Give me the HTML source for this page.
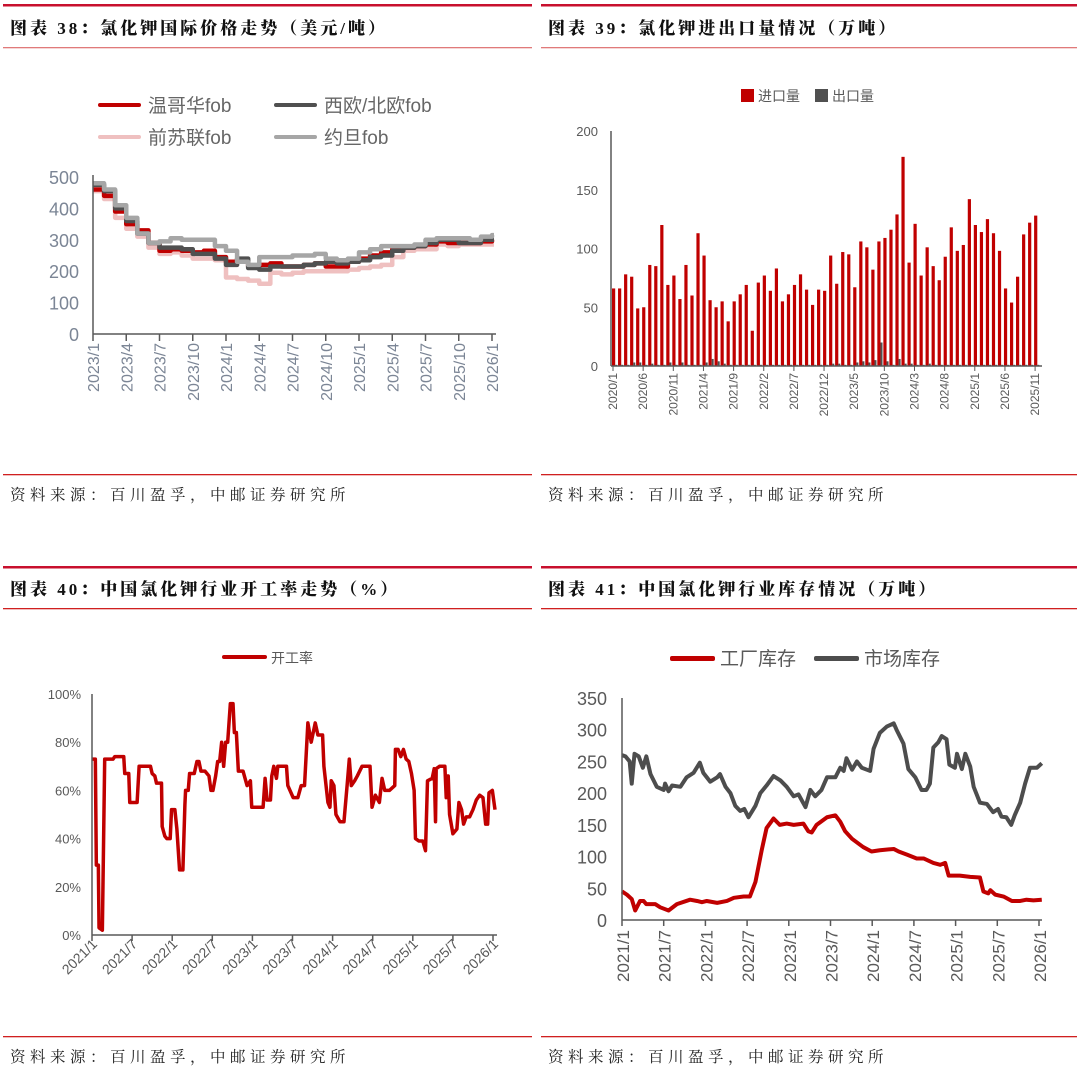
<!DOCTYPE html>
<html><head><meta charset="utf-8"><style>
html,body{margin:0;padding:0;background:#fff;}
svg{display:block;font-family:"Liberation Sans","Noto Sans CJK SC",sans-serif;}
.ttl{font-family:"Liberation Serif","Noto Serif CJK SC",serif;font-weight:900;font-size:17px;letter-spacing:3px;fill:#111;}
.src{font-family:"Liberation Serif","Noto Serif CJK SC",serif;font-size:15.5px;letter-spacing:4.5px;fill:#222;}
</style></head><body>
<svg id="root" width="1080" height="1084" viewBox="0 0 1080 1084" xmlns="http://www.w3.org/2000/svg">
<g>
<rect x="3" y="4" width="529" height="2.5" fill="#c8102e"/>
<rect x="541" y="4" width="536" height="2.5" fill="#c8102e"/>
<rect x="3" y="47" width="529" height="1.3" fill="#e07a7a"/>
<rect x="541" y="47" width="536" height="1.3" fill="#e07a7a"/>
<rect x="3" y="474" width="529" height="1.3" fill="#d02020"/>
<rect x="541" y="474" width="536" height="1.3" fill="#d02020"/>
<rect x="3" y="566" width="529" height="2.5" fill="#c8102e"/>
<rect x="541" y="566" width="536" height="2.5" fill="#c8102e"/>
<rect x="3" y="608" width="529" height="1.3" fill="#d02020"/>
<rect x="541" y="608" width="536" height="1.3" fill="#d02020"/>
<rect x="3" y="1036" width="529" height="1.3" fill="#d02020"/>
<rect x="541" y="1036" width="536" height="1.3" fill="#d02020"/>
</g>
<text class="ttl" x="10" y="34">图表 38：氯化钾国际价格走势（美元/吨）</text>
<text class="ttl" x="548" y="34">图表 39：氯化钾进出口量情况（万吨）</text>
<text class="ttl" x="10" y="595">图表 40：中国氯化钾行业开工率走势（%）</text>
<text class="ttl" x="548" y="595">图表 41：中国氯化钾行业库存情况（万吨）</text>
<text class="src" x="10" y="500">资料来源：百川盈孚，中邮证券研究所</text>
<text class="src" x="548" y="500">资料来源：百川盈孚，中邮证券研究所</text>
<text class="src" x="10" y="1062">资料来源：百川盈孚，中邮证券研究所</text>
<text class="src" x="548" y="1062">资料来源：百川盈孚，中邮证券研究所</text>
<g id="c38"></g>
<g id="c39"></g>
<g id="c40"></g>
<g id="c41"></g>
</svg>
<script>
// ---- Chart 38 data (monthly, 2023/1 .. 2026/1) ----
const priceTicks=[0,100,200,300,400,500];
const priceXLabels=["2023/1","2023/4","2023/7","2023/10","2024/1","2024/4","2024/7","2024/10","2025/1","2025/4","2025/7","2025/10","2026/1"];
const vancouver=[460,440,390,350,330,290,265,270,265,260,265,245,230,230,215,220,225,215,215,220,225,215,215,230,240,250,260,270,275,280,285,295,290,290,290,295,300];
const nwEurope=[475,455,400,360,320,290,275,275,270,255,255,240,220,240,210,205,215,215,215,220,225,230,225,230,235,245,250,265,275,280,290,300,300,290,290,300,300];
const fsu=[455,430,370,335,310,275,255,260,250,240,240,235,180,175,170,160,195,190,195,200,200,200,200,205,210,215,220,245,265,270,270,285,280,285,285,285,285];
const jordan=[480,460,410,370,320,290,295,305,300,300,300,280,265,230,220,245,245,245,250,250,255,240,235,240,260,270,280,280,280,285,300,305,305,305,300,310,315];
// ---- Chart 39 data (monthly, 2020/1 .. 2025/11) ----
const tradeTicks=[0,50,100,150,200];
const tradeXLabels=["2020/1","2020/6","2020/11","2021/4","2021/9","2022/2","2022/7","2022/12","2023/5","2023/10","2024/3","2024/8","2025/1","2025/6","2025/11"];
const imports=[66,66,78,76,49,50,86,85,120,69,77,57,86,60,113,94,56,50,55,38,55,61,69,30,71,77,64,83,55,61,69,78,65,52,65,64,94,70,97,95,67,106,101,82,106,109,116,129,178,88,121,77,101,85,73,93,118,98,103,142,120,114,125,113,98,66,54,76,112,122,128];
const exports=[1,1,1,3,3,1,2,1,1,3,1,3,1,1,1,3,6,4,2,1,1,1,1,1,1,1,1,1,1,1,1,1,1,1,1,1,2,2,1,1,3,4,3,5,20,4,1,6,2,2,1,1,2,1,1,1,1,1,1,1,1,1,1,1,1,1,1,1,1,1,1];
// ---- Chart 40 data (month offset from 2021/1, %) ----
const utilTicks=[0,20,40,60,80,100];
const utilXLabels=["2021/1","2021/7","2022/1","2022/7","2023/1","2023/7","2024/1","2024/7","2025/1","2025/7","2026/1"];
const utilMonth=[0,0.5,0.65,0.95,1.05,1.55,1.9,3.15,3.4,4.75,4.9,5.5,5.65,6.75,7.05,8.75,9.0,9.4,9.65,10.4,10.5,10.9,11.2,11.7,11.9,12.4,12.7,13.1,13.6,13.9,14.0,14.4,14.6,15.3,15.7,16.0,16.3,16.9,17.5,17.8,18.1,18.5,18.8,19.1,19.4,19.7,20.0,20.3,20.7,21.1,21.3,21.6,21.9,22.6,23.2,23.7,23.9,25.6,25.9,26.2,26.7,26.9,27.2,27.6,27.8,28.3,29.1,29.3,30.1,30.8,31.3,31.8,32.3,32.8,33.4,33.8,34.5,34.7,35.3,35.6,35.8,36.2,36.5,37.1,37.7,38.2,38.5,38.8,39.3,39.7,40.4,41.0,41.6,41.9,42.4,43.0,43.4,43.8,44.5,45.3,45.4,45.8,46.2,46.6,47.0,47.4,47.8,48.2,48.4,48.9,49.5,49.9,50.2,50.9,51.2,51.4,51.5,52.0,52.8,53.0,53.3,53.5,54.0,54.6,54.9,55.3,55.6,56.0,56.5,57.0,57.5,58.0,58.5,58.9,59.2,59.4,59.9,60.3];
const utilValue=[73,73,29,29,3,2,73,73,74,74,67,67,55,55,70,70,67,66,63,63,45,41,40,40,52,52,44,27,27,54,60,60,67,67,72,72,68,68,66,60,60,66,72,72,80,70,80,80,96,96,84,84,68,68,62,64,53,53,65,56,56,66,70,65,70,70,70,62,57,57,62,62,88,80,88,83,83,70,55,53,64,62,50,47,47,63,73,62,64,66,70,70,70,53,58,55,65,60,60,62,77,77,74,77,73,72,67,60,40,39,39,35,64,65,69,47,69,70,70,57,66,50,42,44,55,52,46,49,49,52,56,58,57,46,46,59,60,52];
// ---- Chart 41 data (month offset from 2021/1, 万吨) ----
const invTicks=[0,50,100,150,200,250,300,350];
const invXLabels=["2021/1","2021/7","2022/1","2022/7","2023/1","2023/7","2024/1","2024/7","2025/1","2025/7","2026/1"];
const factoryMonth=[0,0.7,1.4,1.9,2.6,3.1,3.5,4.8,5.5,6.7,7.9,9.8,10.8,11.5,12.2,13.7,15.1,16.1,17.5,18.4,19.2,20.1,20.8,21.8,22.7,23.7,24.7,26.1,26.8,27.3,28.0,29.5,30.7,31.4,32.1,33.1,34.7,35.9,37.1,39.1,39.8,41.0,42.4,43.4,44.8,45.8,46.5,47.0,48.6,50.1,51.5,52.0,52.7,53.0,53.7,54.9,56.1,57.3,58.2,59.2,60.4];
const factoryStock=[45,40,33,15,30,30,25,25,20,15,25,32,30,28,30,27,30,35,37,37,60,110,145,160,150,152,150,152,140,138,150,162,165,155,140,128,115,108,110,112,108,103,97,97,90,87,90,70,70,68,67,45,42,47,40,37,30,30,32,31,32];
const marketMonth=[0,0.5,1.1,1.4,1.8,2.4,3.0,3.5,4.1,5.0,6.0,6.2,6.7,7.2,8.4,9.3,10.3,11.2,11.7,12.7,13.7,14.1,14.9,15.6,16.3,17.0,17.6,18.2,19.2,19.9,20.8,21.8,22.8,23.7,24.7,25.4,26.4,27.1,27.8,28.7,29.5,30.7,31.4,31.9,32.3,33.1,33.8,34.5,35.7,36.2,37.1,38.1,39.1,39.5,40.5,41.2,42.2,43.1,43.8,44.3,44.8,45.5,46.0,46.7,47.1,47.9,48.2,48.9,49.4,50.1,50.6,51.5,52.5,53.4,54.1,54.6,55.3,56.0,56.5,57.3,58.0,58.7,59.7,60.4];
const marketStock=[260,258,250,215,262,258,240,258,230,210,205,215,203,212,210,225,232,248,232,218,225,230,210,200,180,172,175,162,180,200,212,227,220,210,195,198,178,205,195,205,225,225,240,235,255,237,250,240,235,270,295,305,310,300,278,238,225,205,205,215,272,280,290,285,245,240,262,238,262,242,210,185,183,170,175,163,162,150,165,185,215,240,240,247];

const NS="http://www.w3.org/2000/svg";
function mk(parent,tag,attrs){const e=document.createElementNS(NS,tag);for(const k in attrs)e.setAttribute(k,attrs[k]);parent.appendChild(e);return e;}
function txt(parent,s,attrs){const e=mk(parent,'text',attrs);e.textContent=s;return e;}

// ===== Chart 38 =====
(function(){
 const g=document.getElementById('c38');
 const x0=93,x1=492,y0=334,y1=177,yMax=500,nM=36;
 const xs=m=>x0+(x1-x0)*m/nM, ys=v=>y0-(y0-y1)*v/yMax;
 priceTicks.forEach(t=>{const e=txt(g,String(t),{x:79,y:ys(t)+7,'text-anchor':'end','font-size':18,fill:'#7b8595'});
  
  });
 priceXLabels.forEach((l,i)=>{const x=xs(i*3);
  const tk=mk(g,'line',{x1:x,x2:x,y1:y0,y2:y0+7,stroke:'#595959','stroke-width':1.5});
  
  
  const e=txt(g,l,{x:0,y:0,transform:`translate(${x+6},${y0+9}) rotate(-90)`,'text-anchor':'end','font-size':16,fill:'#7b8595'});
  
  });
 const series=[[fsu,'#efc0c0','fsu-line'],[vancouver,'#c00000','vancouver-line'],[nwEurope,'#505050','nw-europe-line'],[jordan,'#a6a6a6','jordan-line']];
 series.forEach(([d,c,n])=>{let p='';d.forEach((v,i)=>{const x=xs(i),y=ys(v);p+=(i?`H${x}V${y}`:`M${x},${y}`);});p+=`H${x1+2}`;
  const e=mk(g,'path',{d:p,fill:'none',stroke:c,'stroke-width':4.5,'stroke-linejoin':'round'});
  
  });
 mk(g,'line',{x1:x0,x2:x0,y1:y1-2,y2:y0,stroke:'#595959','stroke-width':1.5});
 mk(g,'line',{x1:x0,x2:x1+4,y1:y0,y2:y0,stroke:'#595959','stroke-width':1.5});
 const lg=[['温哥华fob','#c00000',98,105],['西欧/北欧fob','#505050',274,105],['前苏联fob','#efc0c0',98,137],['约旦fob','#a6a6a6',274,137]];
 lg.forEach(([t,c,x,y])=>{const r=mk(g,'rect',{x:x,y:y-2,width:43,height:4,fill:c,rx:2});
  
  
  const e=txt(g,t,{x:x+50,y:y+7,'font-size':19,fill:'#666'});
  
  });
})();

// ===== Chart 39 =====
(function(){
 const g=document.getElementById('c39');
 const x0=611,x1=1042,y0=366,y1=131,yMax=200;
 const xs=i=>613+i*6.03, ys=v=>y0-(y0-y1)*v/yMax;
 tradeTicks.forEach(t=>{const e=txt(g,String(t),{x:598,y:ys(t)+5,'text-anchor':'end','font-size':13,fill:'#595959'});
  
  });
 imports.forEach((v,i)=>{const r=mk(g,'rect',{x:xs(i)-1,y:ys(v),width:3.2,height:y0-ys(v),fill:'#c00000'});
  
  });
 exports.forEach((v,i)=>{const r=mk(g,'rect',{x:xs(i)+2.2,y:ys(v),width:2,height:y0-ys(v),fill:'#505050'});
  
  });
 tradeXLabels.forEach((l,i)=>{const x=x0+i*5*6.03+2;
  const tk=mk(g,'line',{x1:x,x2:x,y1:y0,y2:y0+5,stroke:'#595959','stroke-width':1});
  
  
  const e=txt(g,l,{x:0,y:0,transform:`translate(${x+4},${y0+7}) rotate(-90)`,'text-anchor':'end','font-size':12,fill:'#595959'});
  
  });
 mk(g,'line',{x1:x0,x2:x0,y1:y1,y2:y0,stroke:'#595959','stroke-width':1.5});
 mk(g,'line',{x1:x0,x2:x1,y1:y0,y2:y0,stroke:'#595959','stroke-width':1.5});
 const a=mk(g,'rect',{x:741,y:89,width:13,height:13,fill:'#c00000'});
 const at=txt(g,'进口量',{x:758,y:101,'font-size':14,fill:'#595959'});
 const b=mk(g,'rect',{x:815,y:89,width:13,height:13,fill:'#505050'});
 const bt=txt(g,'出口量',{x:832,y:101,'font-size':14,fill:'#595959'});
})();

// ===== Chart 40 =====
(function(){
 const g=document.getElementById('c40');
 const x0=92,x1=493,y0=935,y1=694,yMax=100,nM=60;
 const xs=m=>x0+(x1-x0)*m/nM, ys=v=>y0-(y0-y1)*v/yMax;
 utilTicks.forEach(t=>{const e=txt(g,t+'%',{x:81,y:ys(t)+5,'text-anchor':'end','font-size':13,fill:'#595959'});
  
  });
 utilXLabels.forEach((l,i)=>{const x=xs(i*6);
  const tk=mk(g,'line',{x1:x,x2:x,y1:y0,y2:y0+6,stroke:'#595959','stroke-width':1.5});
  
  
  const e=txt(g,l,{x:0,y:0,transform:`translate(${x+6},${y0+10}) rotate(-45)`,'text-anchor':'end','font-size':14,fill:'#595959'});
  
  });
 let p='';utilMonth.forEach((m,i)=>{p+=(i?'L':'M')+xs(m)+','+ys(utilValue[i]);});
 const ln=mk(g,'path',{d:p,fill:'none',stroke:'#c00000','stroke-width':3.5,'stroke-linejoin':'round'});
 
 
 mk(g,'line',{x1:x0,x2:x0,y1:y1,y2:y0,stroke:'#595959','stroke-width':1.5});
 mk(g,'line',{x1:x0,x2:x1+4,y1:y0,y2:y0,stroke:'#595959','stroke-width':1.5});
 const r=mk(g,'rect',{x:222,y:655,width:45,height:4,fill:'#c00000',rx:2});
 const t=txt(g,'开工率',{x:271,y:663,'font-size':14,fill:'#595959'});
})();

// ===== Chart 41 =====
(function(){
 const g=document.getElementById('c41');
 const x0=622,x1=1039,y0=920,y1=698,yMax=350,nM=60;
 const xs=m=>x0+(x1-x0)*m/nM, ys=v=>y0-(y0-y1)*v/yMax;
 invTicks.forEach(t=>{const e=txt(g,String(t),{x:607,y:ys(t)+7,'text-anchor':'end','font-size':18,fill:'#595959'});
  
  });
 invXLabels.forEach((l,i)=>{const x=xs(i*6);
  const tk=mk(g,'line',{x1:x,x2:x,y1:y0,y2:y0+6,stroke:'#595959','stroke-width':1.5});
  
  
  const e=txt(g,l,{x:0,y:0,transform:`translate(${x+7},${y0+10}) rotate(-90)`,'text-anchor':'end','font-size':17,fill:'#595959'});
  
  });
 function line(ms,vs,c,n){let p='';ms.forEach((m,i)=>{p+=(i?'L':'M')+xs(m)+','+ys(vs[i]);});
  const e=mk(g,'path',{d:p,fill:'none',stroke:c,'stroke-width':4,'stroke-linejoin':'round'});
  
  }
 line(marketMonth,marketStock,'#4d4d4d','market-stock-line');
 line(factoryMonth,factoryStock,'#c00000','factory-stock-line');
 mk(g,'line',{x1:x0,x2:x0,y1:y1,y2:y0,stroke:'#595959','stroke-width':1.5});
 mk(g,'line',{x1:x0,x2:x1+3,y1:y0,y2:y0,stroke:'#595959','stroke-width':1.5});
 const a=mk(g,'rect',{x:670,y:656,width:45,height:5,fill:'#c00000',rx:2});
 const at=txt(g,'工厂库存',{x:720,y:665,'font-size':19,fill:'#595959'});
 const b=mk(g,'rect',{x:814,y:656,width:45,height:5,fill:'#4d4d4d',rx:2});
 const bt=txt(g,'市场库存',{x:864,y:665,'font-size':19,fill:'#595959'});
})();
</script>
</body></html>
